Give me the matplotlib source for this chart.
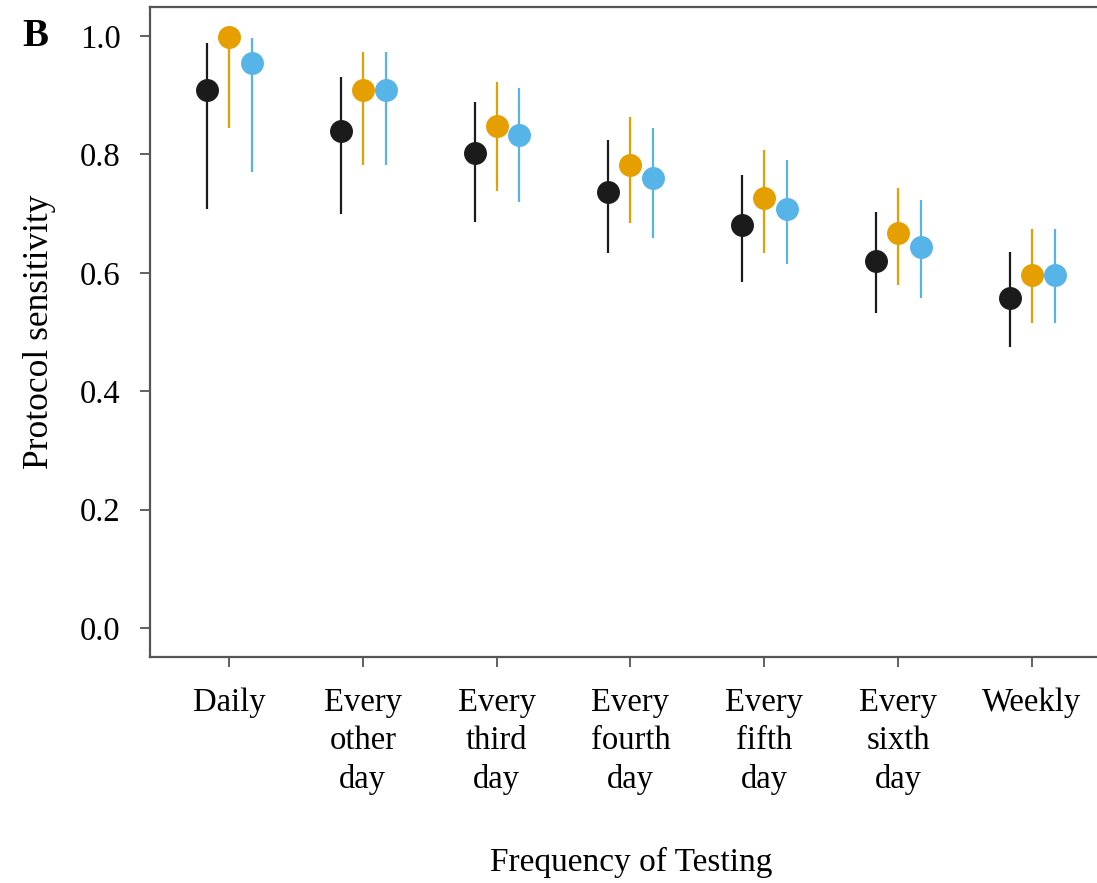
import matplotlib
matplotlib.use('Agg')
import matplotlib.pyplot as plt
import numpy as np

plt.rcParams['font.family'] = ['Liberation Serif', 'DejaVu Serif']

# 검사 빈도
freq = ['Daily', 'Every\nother\nday', 'Every\nthird\nday', 'Every\nfourth\nday',
        'Every\nfifth\nday', 'Every\nsixth\nday', 'Weekly']

# 세 가지 시리즈 (점, 아래쪽 끝, 위쪽 끝)
black_mid = [0.909, 0.840, 0.802, 0.737, 0.681, 0.620, 0.557]
black_low = [0.708, 0.699, 0.686, 0.633, 0.584, 0.532, 0.475]
black_high = [0.988, 0.931, 0.889, 0.824, 0.765, 0.703, 0.635]

orange_mid = [0.998, 0.909, 0.848, 0.782, 0.726, 0.667, 0.596]
orange_low = [0.845, 0.782, 0.738, 0.684, 0.633, 0.579, 0.515]
orange_high = [1.000, 0.973, 0.922, 0.863, 0.807, 0.743, 0.674]

blue_mid = [0.954, 0.909, 0.833, 0.760, 0.708, 0.644, 0.596]
blue_low = [0.770, 0.782, 0.720, 0.659, 0.615, 0.557, 0.515]
blue_high = [0.997, 0.973, 0.912, 0.845, 0.791, 0.723, 0.674]

fig = plt.figure(figsize=(10.97, 8.83), dpi=100)
# 오른쪽은 그림 밖으로 잘려 있음
ax = fig.add_axes([150/1097, (883-657)/883, (1115-150)/1097, (657-7)/883])

x = np.arange(len(freq))
series = [
    (black_mid, black_low, black_high, '#1b1b1b', -0.165),
    (orange_mid, orange_low, orange_high, '#E69F00', 0.0),
    (blue_mid, blue_low, blue_high, '#56B4E9', 0.17),
]
for mid, low, high, c, off in series:
    mid = np.array(mid)
    err = [mid - np.array(low), np.array(high) - mid]
    ax.errorbar(x + off, mid, yerr=err, fmt='o', color=c, ecolor=c,
                elinewidth=1.6, markersize=15.5, capsize=0)

ax.set_xlim(-0.59, 6 + (1115 - 1032) / 133.8)
ax.set_ylim(-0.049, 1.049)
ax.set_xticks(x)
ax.set_xticklabels(freq, fontsize=23.5, linespacing=1.33, va='top')
ax.set_yticks([0.0, 0.2, 0.4, 0.6, 0.8, 1.0])
ax.set_yticklabels(['0.0', '0.2', '0.4', '0.6', '0.8', '1.0'], fontsize=23.5)
ax.tick_params(axis='y', length=7, width=1.3, color='#555555', pad=14)
ax.tick_params(axis='x', length=7, width=1.3, color='#555555', pad=15)
for s in ax.spines.values():
    s.set_color('#555555')
    s.set_linewidth(1.6)

ax.set_ylabel('Protocol sensitivity', fontsize=25.5)
ax.yaxis.set_label_coords(-0.097, 0.5)
fig.text(631/1097, 1 - 862/883, 'Frequency of Testing', fontsize=24,
         ha='center', va='center')
fig.text(35/1097, 1 - 37/883, 'B', fontsize=28, fontweight='bold',
         ha='center', va='center')

plt.savefig('out.png', dpi=100)
